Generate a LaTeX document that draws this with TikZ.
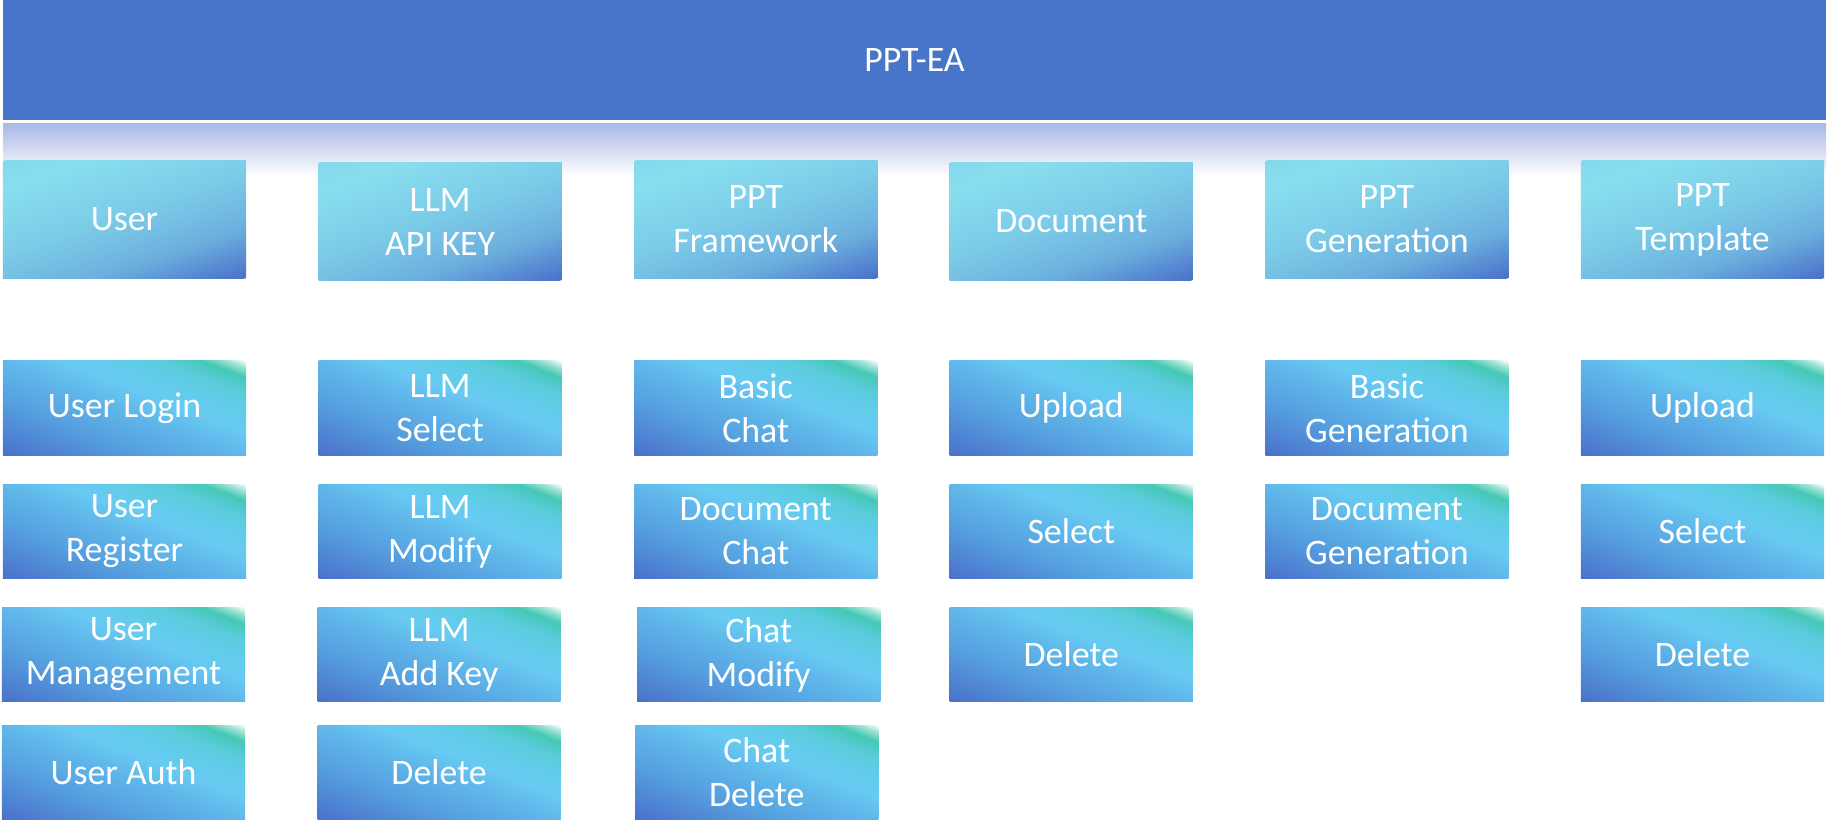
\documentclass[tikz,border=0pt]{standalone}
\usepackage{fontspec}
\setmainfont{Carlito}
\usetikzlibrary{positioning}
\definecolor{barBlue}{HTML}{4675CA}
\definecolor{bandTop}{HTML}{A8B8E4}
\definecolor{hdA}{HTML}{84D8EC}
\definecolor{hdB}{HTML}{88DEEE}
\definecolor{hdC}{HTML}{7CCCE8}
\definecolor{hdD}{HTML}{6CB0DE}
\definecolor{hdE}{HTML}{4A70CA}
\definecolor{sbA}{HTML}{4A70CA}
\definecolor{sbB}{HTML}{56A0E0}
\definecolor{sbC}{HTML}{60B8EA}
\definecolor{sbD}{HTML}{68CAF2}
\definecolor{sbE}{HTML}{62CCEA}
\definecolor{sbF}{HTML}{5ACCDC}
\definecolor{sbG}{HTML}{46C8B6}
\definecolor{sbH}{HTML}{9EE2D4}
\pgfdeclarehorizontalshading{hdshade}{100bp}{color(0bp)=(hdA); color(25bp)=(hdA); color(32bp)=(hdB); color(48bp)=(hdC); color(62bp)=(hdD); color(75bp)=(hdE); color(100bp)=(hdE)}
\pgfdeclarehorizontalshading{sbshade}{100bp}{color(0bp)=(sbA); color(25bp)=(sbA); color(40bp)=(sbB); color(50bp)=(sbC); color(56bp)=(sbD); color(61bp)=(sbE); color(66bp)=(sbF); color(70.5bp)=(sbG); color(73bp)=(sbH); color(75bp)=(white); color(100bp)=(white)}
\tikzset{
  modbox/.style={inner sep=0pt,minimum width=2.43cm,text=white,align=center,
    font=\fontsize{10.2}{12.5}\selectfont},
  % #1 shading, #2 direction, #3 half length of the gradient
  gradfill/.style n args={3}{path picture={
    \coordinate (pc) at (path picture bounding box.center);
    \shade[shading=#1,transform canvas={rotate around={#2:(pc)}}]
      ([shift={(-#3,-300)}]pc) rectangle ([shift={(#3,300)}]pc);}},
  headbox/.style={modbox,minimum height=1.17cm,gradfill={hdshade}{-71}{94.9}},
  subbox/.style={modbox,minimum height=0.945cm,gradfill={sbshade}{68.7}{88.4}}
}
\begin{document}
\begin{tikzpicture}[x=0.01cm,y=-0.01cm]
\useasboundingbox (0,0) rectangle (1828,823);
% title bar
\fill[barBlue] (3,0) rectangle (1826,120);
\node[text=white,font=\fontsize{10.2}{12.5}\selectfont] (title) at (914.5,60) {PPT-EA};
\shade[top color=bandTop,bottom color=white] (3,123) rectangle (1826,176);
% modules
\node[headbox] (hdUser) at (124.5,219.5) {User};
\node[headbox] (hdLLM) at (440.1,221.5) {LLM\\API KEY};
\node[headbox] (hdFrame) at (755.7,219.5) {PPT\\Framework};
\node[headbox] (hdDoc) at (1071.3,221.5) {Document};
\node[headbox] (hdGen) at (1386.9,219.5) {PPT\\Generation};
\node[headbox] (hdTpl) at (1702.5,219.5) {PPT\\Template};
% user
\node[subbox] (userLogin) at (124.5,408) {User Login};
\node[subbox] (userReg) at (124.5,531.5) {User\\Register};
\node[subbox] (userMgmt) at (123.5,654.5) {User\\Management};
\node[subbox] (userAuth) at (123.5,772.5) {User Auth};
% llm
\node[subbox] (llmSelect) at (440.1,408) {LLM\\Select};
\node[subbox] (llmModify) at (440.1,531.5) {LLM\\Modify};
\node[subbox] (llmAddKey) at (439.1,654.5) {LLM\\Add Key};
\node[subbox] (llmDelete) at (439.1,772.5) {Delete};
% framework
\node[subbox] (fwBasic) at (755.7,408) {Basic\\Chat};
\node[subbox] (fwDoc) at (755.7,531.5) {Document\\Chat};
\node[subbox] (fwModify) at (758.7,654.5) {Chat\\Modify};
\node[subbox] (fwDelete) at (756.7,772.5) {Chat\\Delete};
% document
\node[subbox] (docUpload) at (1071.3,408) {Upload};
\node[subbox] (docSelect) at (1071.3,531.5) {Select};
\node[subbox] (docDelete) at (1071.3,654.5) {Delete};
% generation
\node[subbox] (genBasic) at (1386.9,408) {Basic\\Generation};
\node[subbox] (genDoc) at (1386.9,531.5) {Document\\Generation};
% template
\node[subbox] (tplUpload) at (1702.5,408) {Upload};
\node[subbox] (tplSelect) at (1702.5,531.5) {Select};
\node[subbox] (tplDelete) at (1702.5,654.5) {Delete};
\end{tikzpicture}
\end{document}
